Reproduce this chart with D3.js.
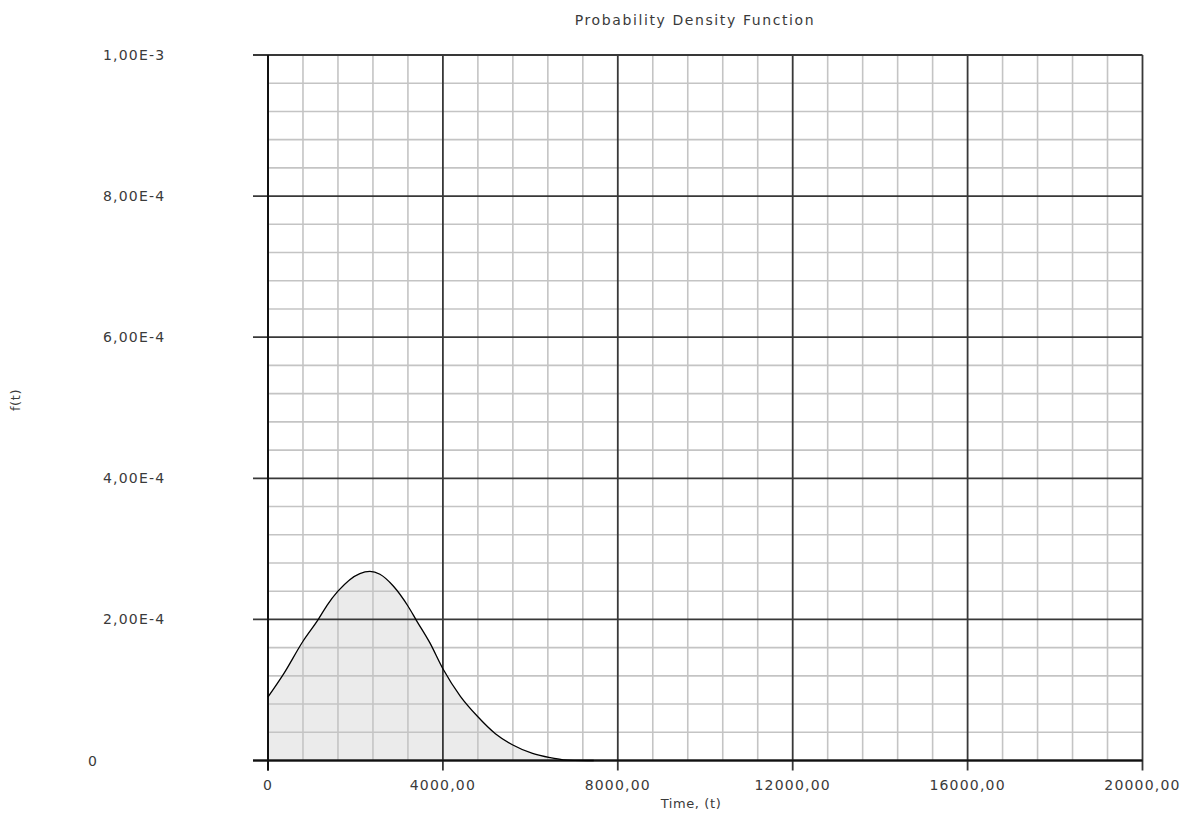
<!DOCTYPE html>
<html>
<head>
<meta charset="utf-8">
<script src="https://cdn.jsdelivr.net/npm/d3@7"></script>
<style>
  body { margin: 0; background: #fff; }
  text { font-family: "DejaVu Sans", sans-serif; fill: #3a3a3a; }
</style>
</head>
<body>
<svg id="chart"></svg>
<script>
// Curve: time (t) and density f(t)
const times = [0, 350, 800, 1150, 1350, 1600, 2100, 2330, 2560, 2870, 3200, 3400, 3700, 4000, 4400, 4800, 5200, 5600, 6050, 6450, 6750, 7000, 7450];
const density = [0.90e-4, 1.22e-4, 1.69e-4, 2.00e-4, 2.20e-4, 2.40e-4, 2.65e-4, 2.68e-4, 2.64e-4, 2.47e-4, 2.19e-4, 1.98e-4, 1.67e-4, 1.30e-4, 0.91e-4, 0.62e-4, 0.38e-4, 0.22e-4, 0.10e-4, 0.04e-4, 0.01e-4, 0.003e-4, 0];

// Axis ticks
const xMajor = [0, 4000, 8000, 12000, 16000, 20000];
const xMinorStep = 800;
const yMajor = [0, 2e-4, 4e-4, 6e-4, 8e-4, 1e-3];
const yMinorStep = 4e-5;
const yLabels = ["0", "2,00E-4", "4,00E-4", "6,00E-4", "8,00E-4", "1,00E-3"];

const title = "Probability Density Function";
const xTitle = "Time, (t)";
const yTitle = "f(t)";

const svgWidth = 1187;
const svgHeight = 821;
const svg = d3.select("#chart").attr("width", svgWidth).attr("height", svgHeight);

// Plot area
const plotLeft = 268, plotRight = 1142.5, plotTop = 55, plotBottom = 760.5;

const x = d3.scaleLinear().domain([0, 20000]).range([plotLeft, plotRight]);
const y = d3.scaleLinear().domain([0, 1e-3]).range([plotBottom, plotTop]);

// Minor grid positions (every 5th one is a major line)
const xMinor = d3.range(1, 25).filter(i => i % 5 !== 0).map(i => i * xMinorStep);
const yMinor = d3.range(1, 25).filter(i => i % 5 !== 0).map(i => i * yMinorStep);

// Area under the curve
const pts = times.map((t, i) => ({ t, f: density[i] }));
svg.append("path")
  .datum(pts)
  .attr("fill", "#ebebeb")
  .attr("d", d3.area().x(d => x(d.t)).y0(y(0)).y1(d => y(d.f)).curve(d3.curveMonotoneX));

// Minor grid, drawn over the fill like in the reference
const grid = svg.append("g");
grid.selectAll("line.xminor")
  .data(xMinor)
  .join("line")
  .attr("class", "xminor")
  .attr("x1", d => x(d)).attr("x2", d => x(d))
  .attr("y1", plotTop).attr("y2", plotBottom)
  .attr("stroke", "#c4c4c4").attr("stroke-width", 1.6);
grid.selectAll("line.yminor")
  .data(yMinor)
  .join("line")
  .attr("class", "yminor")
  .attr("x1", plotLeft).attr("x2", plotRight)
  .attr("y1", d => y(d)).attr("y2", d => y(d))
  .attr("stroke", "#c4c4c4").attr("stroke-width", 1.6);

// Major grid + ticks outside the frame
svg.append("g").selectAll("line")
  .data(xMajor)
  .join("line")
  .attr("x1", d => x(d)).attr("x2", d => x(d))
  .attr("y1", plotTop).attr("y2", plotBottom + 10)
  .attr("stroke", "#383838").attr("stroke-width", 1.8);
svg.append("g").selectAll("line")
  .data(yMajor)
  .join("line")
  .attr("x1", plotLeft - 15).attr("x2", plotRight)
  .attr("y1", d => y(d)).attr("y2", d => y(d))
  .attr("stroke", "#383838").attr("stroke-width", 1.8);

// Axis lines
svg.append("line").attr("x1", plotLeft - 15).attr("x2", plotRight).attr("y1", plotBottom).attr("y2", plotBottom)
  .attr("stroke", "#111").attr("stroke-width", 2);
svg.append("line").attr("x1", plotLeft).attr("x2", plotLeft).attr("y1", plotTop).attr("y2", plotBottom + 10)
  .attr("stroke", "#111").attr("stroke-width", 2);

// Curve
svg.append("path")
  .datum(pts)
  .attr("fill", "none")
  .attr("stroke", "#000")
  .attr("stroke-width", 1.3)
  .attr("d", d3.line().x(d => x(d.t)).y(d => y(d.f)).curve(d3.curveMonotoneX));

// X tick labels
const fmtX = d => d === 0 ? "0" : d3.format(".2f")(d).replace(".", ",");
svg.append("g").selectAll("text")
  .data(xMajor)
  .join("text")
  .attr("x", d => x(d))
  .attr("y", 790)
  .attr("text-anchor", "middle")
  .attr("font-size", 14)
  .attr("letter-spacing", 1.2)
  .text(fmtX);

// Y tick labels
svg.append("g").selectAll("text")
  .data(yMajor)
  .join("text")
  .attr("x", d => d === 0 ? 88 : 103)
  .attr("y", d => y(d) + 5)
  .attr("font-size", 14)
  .attr("letter-spacing", 1.2)
  .text((d, i) => yLabels[i]);

// Titles
svg.append("text")
  .attr("x", 695).attr("y", 25)
  .attr("text-anchor", "middle")
  .attr("font-size", 14)
  .attr("letter-spacing", 1.6)
  .text(title);
svg.append("text")
  .attr("x", 691).attr("y", 808)
  .attr("text-anchor", "middle")
  .attr("font-size", 13)
  .attr("letter-spacing", 0.6)
  .text(xTitle);
svg.append("text")
  .attr("transform", "translate(20,400) rotate(-90)")
  .attr("text-anchor", "middle")
  .attr("font-size", 13)
  .attr("letter-spacing", 0.6)
  .text(yTitle);
</script>
</body>
</html>
